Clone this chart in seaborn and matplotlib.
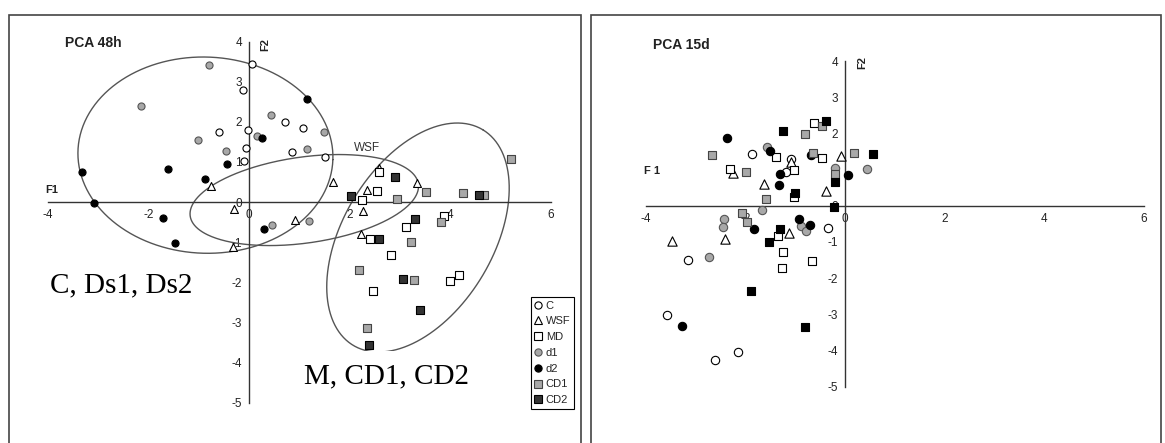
import numpy as np
import pandas as pd
import matplotlib
matplotlib.use("Agg")
import matplotlib.pyplot as plt
import seaborn as sns
from matplotlib.patches import Rectangle
from matplotlib.lines import Line2D

# ---------------- data : PCA 48h ----------------
h48_C_x = [0.07, -0.11, 0.72, -0.02, -0.59, -0.06, 0.85, -0.09, 1.07, 1.52]
h48_C_y = [3.45, 2.79, 2.00, 1.79, 1.75, 1.35, 1.25, 1.03, 1.85, 1.13]
h48_WSF_x = [-0.76, -0.30, 0.92, -0.31, 1.68, 2.58, 2.35, 3.35, 2.26, 2.23]
h48_WSF_y = [0.41, -0.18, -0.45, -1.11, 0.51, 0.84, 0.30, 0.47, -0.22, -0.80]
h48_MD_x = [2.58, 2.54, 2.24, 3.88, 3.13, 2.41, 2.82, 3.99, 4.17, 2.46]
h48_MD_y = [0.76, 0.27, 0.04, -0.35, -0.61, -0.93, -1.31, -1.96, -1.83, -2.22]
h48_d1_x = [-0.80, -2.15, 0.44, -1.01, 0.16, -0.46, 1.50, 1.16, 0.45, 1.20]
h48_d1_y = [3.42, 2.40, 2.17, 1.55, 1.65, 1.27, 1.75, 1.32, -0.56, -0.47]
h48_d2_x = [0.25, -0.44, -3.31, -1.60, -0.88, -3.07, -1.71, 0.30, -1.46, 1.15]
h48_d2_y = [1.59, 0.96, 0.74, 0.82, 0.58, -0.02, -0.39, -0.68, -1.01, 2.58]
h48_CD1_x = [3.52, 4.25, 4.67, 5.20, 2.94, 3.82, 3.23, 2.19, 3.29, 2.35]
h48_CD1_y = [0.24, 0.22, 0.17, 1.07, 0.07, -0.49, -0.99, -1.70, -1.94, -3.14]
h48_CD2_x = [2.90, 4.57, 2.03, 3.31, 2.58, 3.06, 3.41, 2.39]
h48_CD2_y = [0.62, 0.17, 0.15, -0.43, -0.91, -1.91, -2.69, -3.56]

# ---------------- data : PCA 15d ----------------
d15_C_x = [-1.87, -1.09, -1.18, -0.35, -3.16, -3.58, -2.15, -2.62]
d15_C_y = [1.42, 1.30, 0.94, -0.61, -1.50, -3.02, -4.03, -4.26]
d15_WSF_x = [-0.09, -1.09, -2.26, -1.63, -0.38, -1.12, -3.48, -2.41]
d15_WSF_y = [1.38, 1.22, 0.90, 0.59, 0.41, -0.76, -0.97, -0.92]
d15_MD_x = [-1.39, -0.63, -0.47, -2.32, -1.02, -1.02, -1.34, -1.25, -0.67, -1.27]
d15_MD_y = [1.36, 2.30, 1.32, 1.01, 1.00, 0.25, -0.83, -1.27, -1.54, -1.73]
d15_d1_x = [-1.57, -0.20, 0.44, -1.67, -2.44, -2.46, -0.88, -0.79, -2.74]
d15_d1_y = [1.63, 1.05, 1.02, -0.12, -0.36, -0.58, -0.56, -0.69, -1.41]
d15_d2_x = [-2.38, -1.51, -0.69, -1.31, 0.05, -1.32, -1.82, -0.93, -0.70, -3.27]
d15_d2_y = [1.86, 1.50, 1.40, 0.87, 0.86, 0.56, -0.65, -0.37, -0.54, -3.32]
d15_CD1_x = [-2.68, -0.81, -0.46, -0.64, -1.99, -0.21, -1.58, -2.07, -1.97, 0.17]
d15_CD1_y = [1.40, 1.98, 2.20, 1.47, 0.93, 0.87, 0.19, -0.21, -0.46, 1.45]
d15_CD2_x = [-1.25, -0.39, -0.21, -1.00, -0.22, 0.57, -1.31, -1.52, -1.89, -0.80]
d15_CD2_y = [2.07, 2.33, 0.65, 0.36, -0.04, 1.43, -0.64, -0.99, -2.35, -3.34]

groups = ["C", "WSF", "MD", "d1", "d2", "CD1", "CD2"]
x_ticks = [-4, -2, 0, 2, 4, 6]
y_ticks = [-5, -4, -3, -2, -1, 0, 1, 2, 3, 4]

h48 = {"C": (h48_C_x, h48_C_y), "WSF": (h48_WSF_x, h48_WSF_y), "MD": (h48_MD_x, h48_MD_y),
       "d1": (h48_d1_x, h48_d1_y), "d2": (h48_d2_x, h48_d2_y), "CD1": (h48_CD1_x, h48_CD1_y),
       "CD2": (h48_CD2_x, h48_CD2_y)}
d15 = {"C": (d15_C_x, d15_C_y), "WSF": (d15_WSF_x, d15_WSF_y), "MD": (d15_MD_x, d15_MD_y),
       "d1": (d15_d1_x, d15_d1_y), "d2": (d15_d2_x, d15_d2_y), "CD1": (d15_CD1_x, d15_CD1_y),
       "CD2": (d15_CD2_x, d15_CD2_y)}

def to_df(d):
    rows = []
    for g in groups:
        xs, ys = d[g]
        for a, b in zip(xs, ys):
            rows.append((g, a, b))
    return pd.DataFrame(rows, columns=["group", "F1", "F2"])

df48 = to_df(h48)
df15 = to_df(d15)

markers = {"C": "o", "WSF": "^", "MD": "s", "d1": "o", "d2": "o", "CD1": "s", "CD2": "s"}
faces = {"C": "white", "WSF": "white", "MD": "white", "d1": "#a8a8a8", "d2": "black",
         "CD1": "#a8a8a8", "CD2": "#333333"}
edges = {"C": "black", "WSF": "black", "MD": "black", "d1": "#555555", "d2": "black",
         "CD1": "#444444", "CD2": "black"}
faces15 = dict(faces, CD2="black")

sns.set_theme(style="white")
plt.rcParams["font.family"] = ["Liberation Sans", "DejaVu Sans"]
plt.rcParams["axes.unicode_minus"] = False

W, H = 1165, 443
fig = plt.figure(figsize=(W / 100, H / 100), dpi=100)
fig.patch.set_facecolor("white")

# panel frames
fig.add_artist(Rectangle((9 / W, -0.05), (581 - 9) / W, 1 - 15 / H + 0.05, transform=fig.transFigure,
                         fill=False, ec="#444444", lw=1.2))
fig.add_artist(Rectangle((591 / W, -0.05), (1161 - 591) / W, 1 - 15 / H + 0.05, transform=fig.transFigure,
                         fill=False, ec="#444444", lw=1.2))

ax1 = fig.add_axes([47.7 / W, 1 - 402.5 / H, 503.1 / W, 360.8 / H])
ax2 = fig.add_axes([646 / W, 1 - 386.7 / H, 497.7 / W, 325.7 / H])

def style_axes(ax):
    ax.set_xlim(-4, 6)
    ax.set_ylim(-5, 4)
    ax.set_facecolor("none")
    for s in ["top", "right"]:
        ax.spines[s].set_visible(False)
    for s in ["left", "bottom"]:
        ax.spines[s].set_position(("data", 0))
        ax.spines[s].set_color("#333333")
        ax.spines[s].set_linewidth(1.0)
    ax.set_xticks(x_ticks)
    ax.set_yticks(y_ticks)
    ax.tick_params(axis="both", direction="out", length=3, width=0.8, color="#333333",
                   labelsize=8.5, labelcolor="#222222", pad=2)
    ax.grid(False)

def draw_points(ax, df, s, fc):
    for g in groups:
        sub = df[df.group == g]
        sns.scatterplot(data=sub, x="F1", y="F2", marker=markers[g], color=fc[g], edgecolor=edges[g],
                        linewidth=0.8, s=s * (1.25 if g == "WSF" else 1.0), ax=ax, zorder=5, legend=False)
    ax.set_xlabel("")
    ax.set_ylabel("")

def ellipse(ax, cx, cy, A, B, phi):
    # A, B in x-data units; rotation phi in screen degrees
    bb = ax.get_position()
    xr = ax.get_xlim()[1] - ax.get_xlim()[0]
    yr = ax.get_ylim()[1] - ax.get_ylim()[0]
    k = (bb.width * W / xr) / (bb.height * H / yr)
    t = np.linspace(0, 2 * np.pi, 400)
    p = np.radians(phi)
    ex = cx + A * np.cos(t) * np.cos(p) - B * np.sin(t) * np.sin(p)
    ey = cy + (A * np.cos(t) * np.sin(p) + B * np.sin(t) * np.cos(p)) * k
    ax.plot(ex, ey, color="#555555", lw=1.0, zorder=2)

# ---- left panel ----
style_axes(ax1)
ellipse(ax1, -0.865, 1.17, 2.535, 1.95, -2)
ellipse(ax1, 1.10, 0.05, 2.29, 0.855, 8)
ellipse(ax1, 3.36, -0.885, 2.50, 1.49, 59)
draw_points(ax1, df48, 26, faces)
ax1.text(-3.10, 3.97, "PCA 48h", ha="center", va="center", fontsize=10, fontweight="bold", color="#222222")
ax1.text(-3.92, 0.30, "F1", ha="center", va="center", fontsize=8, fontweight="bold", color="#222222")
ax1.text(0.32, 3.92, "F2", ha="center", va="center", fontsize=8, fontweight="bold", rotation=90, color="#222222")
ax1.text(2.35, 1.35, "WSF", ha="center", va="center", fontsize=8.5, color="#333333")
ax1.text(-2.545, -2.07, "C, Ds1, Ds2", ha="center", va="center", fontsize=21,
         family=["Liberation Serif", "DejaVu Serif"], color="black", zorder=3)
ax1.text(2.74, -4.36, "M, CD1, CD2", ha="center", va="center", fontsize=21,
         family=["Liberation Serif", "DejaVu Serif"], color="black", zorder=3,
         bbox=dict(boxstyle="square,pad=0.45", fc="white", ec="none"))

handles = [Line2D([0], [0], marker=markers[g], linestyle="none", markerfacecolor=faces[g],
                  markeredgecolor=edges[g], markeredgewidth=0.8, markersize=5.2 if g != "WSF" else 5.8)
           for g in groups]
leg = fig.legend(handles, groups, loc="upper left", bbox_to_anchor=(530.7 / W, 1 - 296.7 / H),
                 frameon=True, fancybox=False, framealpha=1, edgecolor="black", fontsize=8,
                 borderpad=0.35, labelspacing=0.52, handlelength=0.7, handletextpad=0.3,
                 borderaxespad=0)
leg.get_frame().set_linewidth(0.8)

# ---- right panel ----
style_axes(ax2)
draw_points(ax2, df15, 36, faces15)
ax2.text(-3.28, 4.44, "PCA 15d", ha="center", va="center", fontsize=10, fontweight="bold", color="#222222")
ax2.text(-3.88, 0.97, "F 1", ha="center", va="center", fontsize=8, fontweight="bold", color="#222222")
ax2.text(0.34, 3.95, "F2", ha="center", va="center", fontsize=8, fontweight="bold", rotation=90, color="#222222")

fig.savefig("out.png", dpi=100, facecolor="white")
